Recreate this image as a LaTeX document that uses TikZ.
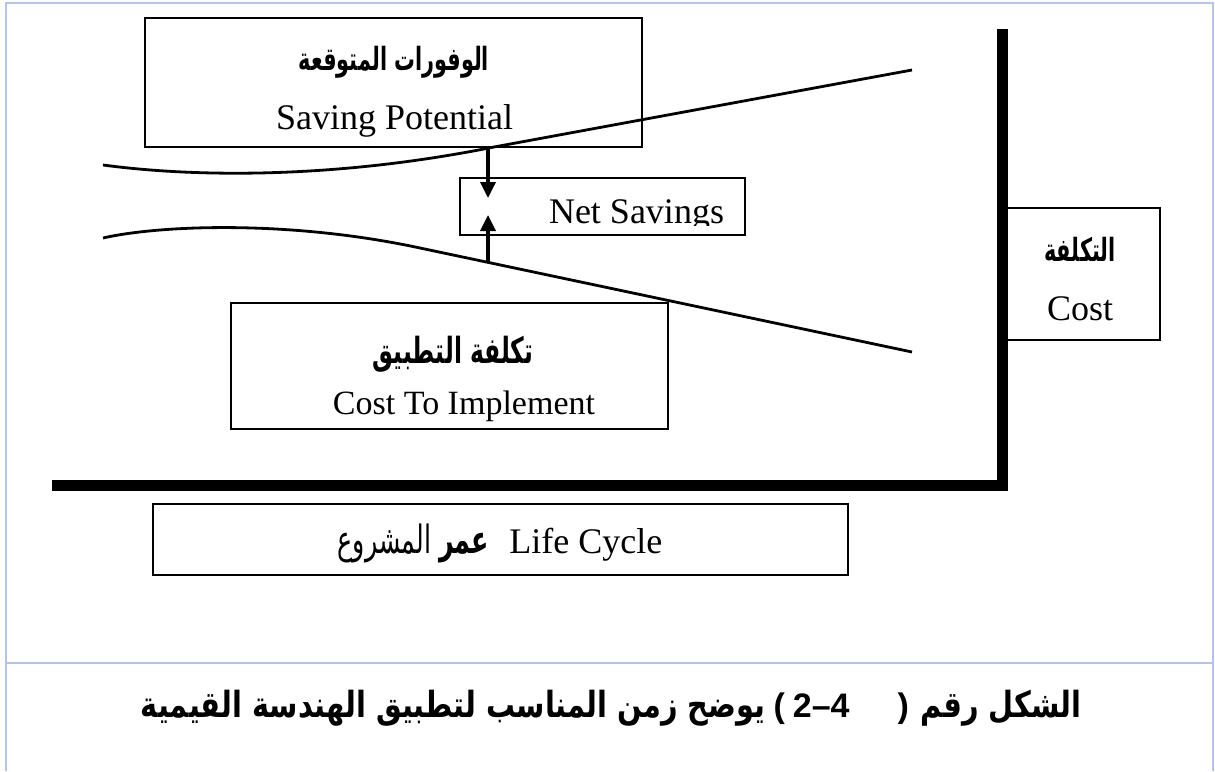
\documentclass[tikz,border=0pt]{standalone}
\usepackage{fontspec}
\setmainfont{Liberation Serif}
\newfontfamily\arabicfont[Script=Arabic, FakeStretch=0.65]{DejaVu Sans}
\newfontfamily\capfont[Script=Arabic, FakeStretch=0.8]{DejaVu Sans}
\newfontfamily\capnum{Liberation Sans}
\TeXXeTstate=1
\usepackage{tikz}
\usetikzlibrary{arrows.meta, positioning}
\definecolor{frameblue}{RGB}{180,198,231}
\tikzstyle{box} = [draw, line width=0.75pt, inner sep=0pt]
\tikzstyle{entext} = [font=\fontsize{18}{20}\selectfont, anchor=base, inner sep=0pt]
\tikzstyle{artext} = [font=\arabicfont\bfseries\fontsize{16}{18}\selectfont, inner sep=0pt]
\tikzstyle{curve} = [line width=1.4pt]
\tikzstyle{arr} = [-{Triangle[length=8pt,width=7.5pt]}, line width=1.7pt]
\tikzstyle{axis} = [line width=5.5pt]

\begin{document}
\begin{tikzpicture}[x=0.5pt, y=-0.5pt]
	\useasboundingbox (0,0) rectangle (1215,771);
	\fill [white] (0,0) rectangle (1215,771);
	
	% frame of the table
	\draw [frameblue, line width=1pt] (6,771) -- (6,3) -- (1213,3) -- (1213,771);
	\draw [frameblue, line width=1pt] (6,663) -- (1213,663);
	
	% axes
	\draw [axis] (1002,29) -- (1002,485) -- (52,485);
	
	% boxes
	\node [box, minimum width=248.5pt, minimum height=64.5pt] (savebox) at (393.5,82.5) {};
	\node [box, minimum width=142.5pt, minimum height=28.5pt] (netbox) at (602.5,206.5) {};
	\node [box, minimum width=218.5pt, minimum height=63pt] (implbox) at (449.5,366) {};
	\node [box, minimum width=76.5pt, minimum height=66pt] (costbox) at (1083.5,274) {};
	\node [box, line width=1.2pt, minimum width=347.5pt, minimum height=35.5pt] (lifebox) at (500.5,539.5) {};
	
	% curves
	\draw [curve] (103,165) .. controls (200,178) and (340,178) .. (494,147) -- (912,70);
	\draw [curve] (103,238) .. controls (160,225) and (290,220) .. (420,248) -- (912,352);
	
	\coordinate (sp) at (488,148.5);
	\coordinate (nettop) at (488,198);
	\coordinate (netbot) at (488,215);
	\coordinate (ci) at (488,262);
	\draw [arr] (sp) -- (nettop);
	\draw [arr] (ci) -- (netbot);
	
	% labels
	\node [artext] (savear) at (394,62) {\beginR الوفورات المتوقعة\endR};
	\node [entext] (saveen) at (394.5,129) {Saving Potential};
	\begin{scope}
		\clip (460,178) rectangle (745,225);
		\node [entext] (netsav) at (636.5,223) {Net Savings};
	\end{scope}
	\node [artext, font=\arabicfont\bfseries\fontsize{18}{20}\selectfont] (implar) at (453,354) {\beginR تكلفة التطبيق\endR};
	\node [entext, font=\fontsize{17}{19}\selectfont] (implen) at (464,414) {Cost To Implement};
	\node [artext] (costar) at (1080,249) {\beginR التكلفة\endR};
	\node [entext] (costen) at (1080,320) {Cost};
	\node [entext] (lifetxt) at (500,553) {{\arabicfont\fontsize{19.5}{21}\selectfont\beginR{\bfseries عمر} المشروع\endR}\hspace{10pt}Life Cycle};
	
	\node [font=\capfont\bfseries\fontsize{18}{20}\selectfont, inner sep=0pt] (caption) at (611,708) {\beginR يوضح زمن المناسب لتطبيق الهندسة القيمية\endR\hspace{4pt}{\capnum\bfseries\fontsize{17}{19}\selectfont (\hspace{4pt}2–4\hspace{24pt})}\hspace{6pt}\beginR الشكل رقم\endR};
\end{tikzpicture}
\end{document}
